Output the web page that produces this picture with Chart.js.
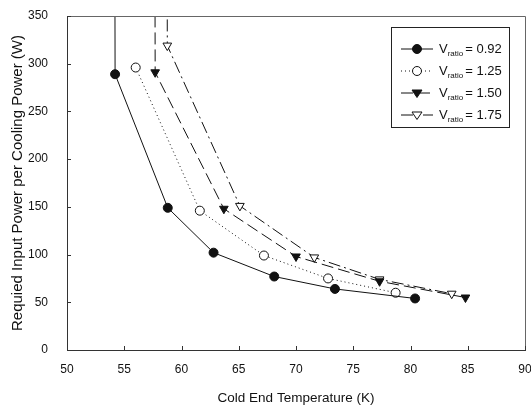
<!DOCTYPE html>
<html>
<head>
<meta charset="utf-8">
<script src="https://cdn.jsdelivr.net/npm/chart.js@4/dist/chart.umd.min.js"></script>
<style>
  html, body { margin: 0; padding: 0; background: #fff; }
  #wrap { width: 531px; height: 408px; }
</style>
</head>
<body>
<div id="wrap"><canvas id="chart"></canvas></div>
<script>
// values (first point of some series is an off-scale asymptote)
const ratioLabels = ['0.92', '1.25', '1.50', '1.75'];

const temp092 = [54.15, 54.2, 58.8, 62.8, 68.1, 73.4, 80.4];
const power092 = [600, 289, 149, 102, 77, 64, 54];

const temp125 = [56.0, 61.6, 67.2, 72.8, 78.7];
const power125 = [296, 146, 99, 75, 60];

const temp150 = [57.65, 57.7, 63.7, 70.0, 77.3, 84.8];
const power150 = [600, 291, 148, 98, 72, 55];

const temp175 = [58.72, 58.76, 65.1, 71.6, 77.3, 83.6];
const power175 = [600, 319, 151, 97, 74, 59];

const xTicks = [50, 55, 60, 65, 70, 75, 80, 85, 90];
const yTicks = [0, 50, 100, 150, 200, 250, 300, 350];

const FONT = '"Liberation Sans", Arial, sans-serif';
const INK = '#111';

function toPoints(xs, ys) {
    return xs.map((x, i) => ({ x: x, y: ys[i] }));
}

// first point hidden when it is the off-scale one
function radii(ys, r) {
    return ys.map(y => (y > 350 ? 0 : r));
}

const styles = [
    { style: 'circle', fill: INK, dash: [], r: 4.5 },
    { style: 'circle', fill: '#fff', dash: [1, 3], r: 4.5 },
    { style: 'triangle', fill: INK, dash: [12, 5], r: 5, rot: 180 },
    { style: 'triangle', fill: '#fff', dash: [12, 4, 2, 4], r: 5, rot: 180 }
];

const series = [
    toPoints(temp092, power092),
    toPoints(temp125, power125),
    toPoints(temp150, power150),
    toPoints(temp175, power175)
];
const seriesY = [power092, power125, power150, power175];

const datasets = series.map((pts, i) => ({
    label: 'Vratio = ' + ratioLabels[i],
    data: pts,
    showLine: true,
    borderColor: INK,
    borderWidth: 1,
    borderDash: styles[i].dash,
    backgroundColor: styles[i].fill,
    pointBackgroundColor: styles[i].fill,
    pointBorderColor: INK,
    pointBorderWidth: 1,
    pointStyle: styles[i].style,
    pointRotation: styles[i].rot || 0,
    pointRadius: radii(seriesY[i], styles[i].r),
    tension: 0
}));

function noPad(s) {
    s.paddingTop = 0;
    s.paddingBottom = 0;
    s.paddingLeft = 0;
    s.paddingRight = 0;
}

// frame around plot, inner tick marks, legend with subscripted "ratio"
const decorPlugin = {
    id: 'decor',
    afterDatasetsDraw(chart) {
        const ctx = chart.ctx;
        const a = chart.chartArea;
        const xs = chart.scales.x, ys = chart.scales.y;
        ctx.save();
        ctx.strokeStyle = '#666';
        ctx.lineWidth = 1;
        ctx.beginPath();
        ctx.moveTo(a.left, a.top + 0.5);
        ctx.lineTo(a.right + 0.5, a.top + 0.5);
        ctx.lineTo(a.right + 0.5, a.bottom);
        ctx.stroke();

        // ticks crossing the axes (inner half)
        ctx.strokeStyle = '#333';
        ctx.beginPath();
        xTicks.forEach(v => {
            const px = Math.round(xs.getPixelForValue(v)) + 0.5;
            ctx.moveTo(px, a.bottom);
            ctx.lineTo(px, a.bottom - 4);
        });
        yTicks.forEach(v => {
            const py = Math.round(ys.getPixelForValue(v)) + 0.5;
            ctx.moveTo(a.left, py);
            ctx.lineTo(a.left + 4, py);
        });
        ctx.stroke();

        // legend box
        const bx = 391, by = 27, bw = 118, bh = 100;
        ctx.fillStyle = '#fff';
        ctx.fillRect(bx, by, bw, bh);
        ctx.strokeStyle = '#222';
        ctx.strokeRect(bx + 0.5, by + 0.5, bw, bh);

        const rowH = 22;
        const y0 = by + 22;
        chart.data.datasets.forEach((ds, i) => {
            const y = y0 + i * rowH;
            const x1 = bx + 10, x2 = bx + 42;
            ctx.strokeStyle = INK;
            ctx.lineWidth = 1;
            ctx.setLineDash(ds.borderDash);
            ctx.beginPath();
            ctx.moveTo(x1, y);
            ctx.lineTo(x2, y);
            ctx.stroke();
            ctx.setLineDash([]);
            ctx.fillStyle = ds.pointBackgroundColor;
            ctx.strokeStyle = INK;
            ctx.beginPath();
            const cx = (x1 + x2) / 2, r = styles[i].r;
            if (ds.pointStyle === 'circle') {
                ctx.arc(cx, y, r, 0, Math.PI * 2);
            } else {
                ctx.moveTo(cx - r, y - r * 0.6);
                ctx.lineTo(cx + r, y - r * 0.6);
                ctx.lineTo(cx, y + r * 0.9);
                ctx.closePath();
            }
            ctx.fill();
            ctx.stroke();

            ctx.fillStyle = INK;
            ctx.textBaseline = 'middle';
            ctx.font = '13px ' + FONT;
            let tx = x2 + 6;
            ctx.fillText('V', tx, y);
            tx += ctx.measureText('V').width;
            ctx.font = '8px ' + FONT;
            ctx.fillText('ratio', tx, y + 5);
            tx += ctx.measureText('ratio').width + 2;
            ctx.font = '13px ' + FONT;
            ctx.fillText('= ' + ratioLabels[i], tx, y);
        });
        ctx.restore();
    }
};

new Chart(document.getElementById('chart'), {
    type: 'scatter',
    data: { datasets: datasets },
    plugins: [decorPlugin],
    options: {
        responsive: true,
        maintainAspectRatio: false,
        animation: false,
        layout: { padding: { top: 16, right: 6, left: 0, bottom: 0 } },
        plugins: {
            legend: { display: false },
            tooltip: { enabled: false }
        },
        scales: {
            x: {
                type: 'linear',
                min: 50,
                max: 90,
                afterBuildTicks: (s) => { s.ticks = xTicks.map(v => ({ value: v })); },
                afterFit: (s) => { s.height = 58; noPad(s); },
                grid: { display: false, drawTicks: true, tickLength: 4, tickColor: '#333' },
                border: { color: '#333' },
                ticks: { color: INK, font: { family: FONT, size: 12 }, padding: 8, maxRotation: 0 },
                title: {
                    display: true,
                    text: 'Cold End Temperature (K)',
                    color: INK,
                    font: { family: FONT, size: 13.5 },
                    padding: { top: 8, bottom: 2 }
                }
            },
            y: {
                type: 'linear',
                min: 0,
                max: 350,
                afterBuildTicks: (s) => { s.ticks = yTicks.map(v => ({ value: v })); },
                afterFit: (s) => { s.width = 67; noPad(s); },
                grid: { display: false, drawTicks: true, tickLength: 4, tickColor: '#333' },
                border: { color: '#333' },
                ticks: { color: INK, font: { family: FONT, size: 12 }, padding: 15 },
                title: {
                    display: true,
                    text: 'Requied Input Power per Cooling Power (W)',
                    color: INK,
                    font: { family: FONT, size: 15 },
                    padding: { top: 9, bottom: 4 }
                }
            }
        }
    }
});
</script>
</body>
</html>
